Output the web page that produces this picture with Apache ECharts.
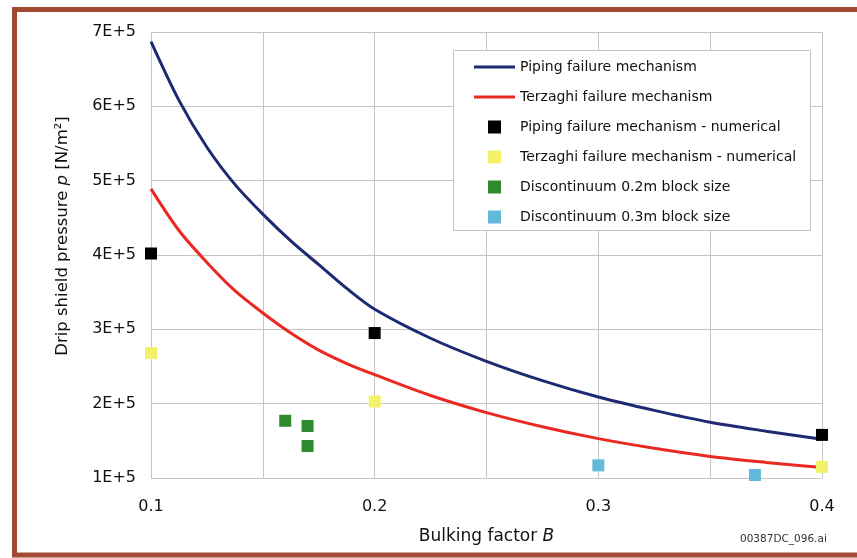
<!DOCTYPE html>
<html><head><meta charset="utf-8">
<script src="https://cdn.jsdelivr.net/npm/echarts@6/dist/echarts.min.js"></script>
<style>html,body{margin:0;padding:0;background:#fff}#c{width:857px;height:558px}</style>
</head><body><div id="c"></div>
<script>
// Curve samples (bulking factor B, pressure p)
const curveB = [0.1, 0.1125, 0.125, 0.1375, 0.15, 0.1625, 0.175, 0.1875, 0.2, 0.225, 0.25, 0.275, 0.3, 0.325, 0.35, 0.375, 0.4];
const pipingCurve = [687000, 608000, 545000, 495000, 455000, 419000, 387000, 355000, 327000, 288000, 257000, 231000, 209000, 191000, 175000, 163000, 152000];
const terzaghiCurve = [489000, 433000, 390000, 352000, 322000, 295000, 272000, 254000, 239000, 211000, 188000, 169000, 153000, 140000, 129000, 121000, 114000];
// Numerical results
const numB = [0.1, 0.2, 0.4];
const pipingNum = [402000, 295000, 158000];
const terzaghiNum = [268000, 203000, 115000];
const disc02B = [0.16, 0.17, 0.17];
const disc02P = [177000, 170000, 143000];
const disc03B = [0.3, 0.37];
const disc03P = [117000, 104000];
const seriesNames = ['Piping failure mechanism', 'Terzaghi failure mechanism',
  'Piping failure mechanism - numerical', 'Terzaghi failure mechanism - numerical',
  'Discontinuum 0.2m block size', 'Discontinuum 0.3m block size'];

const zip = (a, b) => a.map((v, i) => [v, b[i]]);
const FONT = '"DejaVu Sans", "Liberation Sans", Arial, sans-serif';
const sq = 'path://M0,0h10v10h-10z';
const ln = 'path://M0,0h41v3h-41z';
const gridLine = { color: '#c9c4c4', width: 1 };
const txt = '#111';

const chart = echarts.init(document.getElementById('c'), null, { renderer: 'canvas' });
chart.setOption({
  animation: false,
  backgroundColor: '#fff',
  textStyle: { fontFamily: FONT },
  grid: { left: 151, right: 35, top: 32, bottom: 80 },
  graphic: [
    { type: 'rect', z: 100, silent: true, shape: { x: 14.5, y: 9.5, width: 900, height: 545.5 },
      style: { fill: null, stroke: '#a24a33', lineWidth: 5 } },
    { type: 'rect', z: 3, shape: { x: 453.5, y: 50.5, width: 357, height: 180 },
      style: { fill: '#fff', stroke: '#c4c4c4', lineWidth: 1 } },
    { type: 'text', z: 5, x: 740, y: 534, style: { text: '00387DC_096.ai', font: '10.5px ' + FONT, fill: '#333' } }
  ],
  legend: {
    orient: 'vertical', left: 474, top: 58.5, itemGap: 13, padding: 0,
    itemWidth: 41, itemHeight: 13, z: 6,
    textStyle: { fontSize: 14, lineHeight: 17, color: txt, fontFamily: FONT },
    data: seriesNames.map((n, i) => ({ name: n, icon: i < 2 ? ln : sq }))
  },
  xAxis: {
    type: 'value', min: 0.1, max: 0.4, interval: 0.1,
    name: '{a|Bulking factor }{b|B}', nameLocation: 'middle', nameGap: 50,
    nameTextStyle: { rich: { a: { fontSize: 17, color: txt, fontFamily: FONT }, b: { fontSize: 17, color: txt, fontStyle: 'italic', fontFamily: FONT } } },
    axisLine: { show: false }, axisTick: { show: false },
    axisLabel: { fontSize: 16, color: txt, margin: 21, formatter: v => v.toFixed(1) },
    splitLine: { show: true, lineStyle: gridLine },
    minorTick: { show: false, splitNumber: 2 },
    minorSplitLine: { show: true, lineStyle: gridLine }
  },
  yAxis: {
    type: 'value', min: 100000, max: 700000, interval: 100000,
    name: '{a|Drip shield pressure }{b|p}{a| [N/m²]}', nameLocation: 'middle', nameGap: 80,
    nameTextStyle: { padding: [0, 0, 0, 38], rich: { a: { fontSize: 16.5, color: txt, fontFamily: FONT }, b: { fontSize: 16.5, color: txt, fontStyle: 'italic', fontFamily: FONT } } },
    axisLine: { show: false }, axisTick: { show: false },
    axisLabel: { fontSize: 16, color: txt, margin: 15, formatter: v => (v / 100000) + 'E+5' },
    splitLine: { show: true, lineStyle: gridLine }
  },
  series: [
    { name: seriesNames[0], type: 'line', data: zip(curveB, pipingCurve), smooth: 0.3, symbol: 'none',
      lineStyle: { color: '#1d2a72', width: 3 }, itemStyle: { color: '#1d2a72' }, z: 3 },
    { name: seriesNames[1], type: 'line', data: zip(curveB, terzaghiCurve), smooth: 0.3, symbol: 'none',
      lineStyle: { color: '#ea2a22', width: 3 }, itemStyle: { color: '#ea2a22' }, z: 3 },
    { name: seriesNames[2], type: 'scatter', data: zip(numB, pipingNum), symbol: 'rect', symbolSize: 12,
      itemStyle: { color: '#000', opacity: 1 }, z: 4 },
    { name: seriesNames[3], type: 'scatter', data: zip(numB, terzaghiNum), symbol: 'rect', symbolSize: 12,
      itemStyle: { color: '#f3f06a', opacity: 1 }, z: 4 },
    { name: seriesNames[4], type: 'scatter', data: zip(disc02B, disc02P), symbol: 'rect', symbolSize: 12,
      itemStyle: { color: '#2e8a2c', opacity: 1 }, z: 4 },
    { name: seriesNames[5], type: 'scatter', data: zip(disc03B, disc03P), symbol: 'rect', symbolSize: 12,
      itemStyle: { color: '#62b9d9', opacity: 1 }, z: 4 }
  ]
});
</script></body></html>
